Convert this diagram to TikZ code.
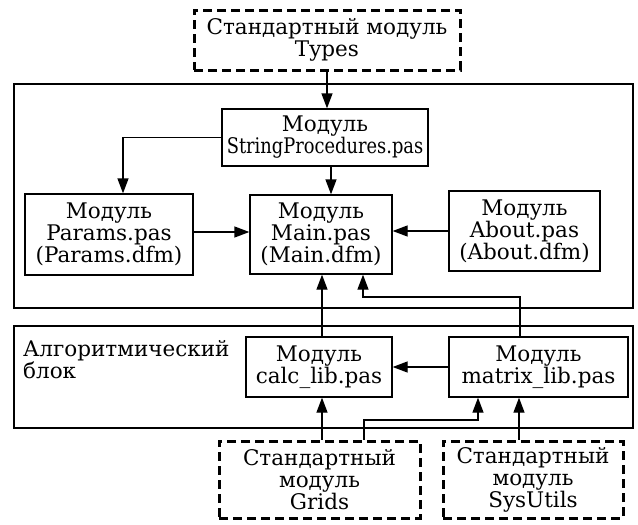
\documentclass[tikz,border=0pt]{standalone}
\usepackage{fontspec}
\usepackage{graphicx}
\setmainfont{DejaVu Serif}
\usetikzlibrary{arrows.meta}
\tikzset{
  txt/.style={font=\fontsize{21.5}{22}\selectfont},
  box/.style={draw, line width=1.3pt, inner sep=0pt, align=center, txt},
  dbox/.style={box, line width=3pt, dash pattern=on 9pt off 5pt},
  frame/.style={draw, line width=1.3pt, inner sep=0pt},
  arr/.style={line width=1.3pt, -{Triangle[length=15pt,width=11pt]}},
}
\begin{document}
\begin{tikzpicture}[x=1pt,y=-1pt]
\useasboundingbox (0,0) rectangle (638,525);
\node[frame, minimum width=619pt, minimum height=224pt] (outerA) at (323.5,196) {};
\node[frame, minimum width=619pt, minimum height=102pt] (outerB) at (323.5,377) {};
\node[dbox, minimum width=266pt, minimum height=60pt] (types) at (327,40) {Стандартный модуль\\Types};
\node[box, minimum width=206pt, minimum height=57pt] (sp) at (325,137.5) {Модуль\\\scalebox{0.83}[1]{StringProcedures.pas}};
\node[box, minimum width=168pt, minimum height=81pt] (params) at (109,234.5) {Модуль\\Params.pas\\(Params.dfm)};
\node[box, minimum width=142pt, minimum height=79pt] (main) at (321,234.5) {Модуль\\Main.pas\\(Main.dfm)};
\node[box, minimum width=151pt, minimum height=80pt] (about) at (524.5,231) {Модуль\\About.pas\\(About.dfm)};
\node[box, minimum width=146pt, minimum height=60pt] (calc) at (319,367) {Модуль\\calc\_lib.pas};
\node[box, minimum width=179pt, minimum height=60pt] (matrix) at (538.5,367) {Модуль\\matrix\_lib.pas};
\node[dbox, minimum width=201pt, minimum height=77pt] (grids) at (319.5,479.5) {Стандартный\\модуль\\Grids};
\node[dbox, minimum width=180pt, minimum height=77pt] (sysutils) at (533,479.5) {Стандартный\\модуль\\SysUtils};
\node[anchor=north west, align=left, inner sep=0pt, txt] (alg) at (23,340) {Алгоритмический\\блок};
\coordinate (x123) at (123,0);
\coordinate (x331) at (331,0);
\coordinate (x322) at (322,0);
\coordinate (x363) at (363,0);
\coordinate (x364) at (364,0);
\coordinate (x478) at (478,0);
\coordinate (x519) at (519,0);
\coordinate (x520) at (520,0);
\coordinate (y232) at (0,232);
\coordinate (y297) at (0,297);
\coordinate (y420) at (0,420);
\draw[arr] (types.south) -- (types.south |- sp.north);
\draw[arr] (sp.west) -| (x123 |- params.north);
\draw[arr] (x331 |- sp.south) -- (x331 |- main.north);
\draw[arr] (params.east |- y232) -- (main.west |- y232);
\draw[arr] (about.west) -- (about.west -| main.east);
\draw[arr] (x322 |- calc.north) -- (x322 |- main.south);
\draw[arr] (x520 |- matrix.north) |- (x363 |- y297) -- (x363 |- main.south);
\draw[arr] (matrix.west) -- (matrix.west -| calc.east);
\draw[arr] (x322 |- grids.north) -- (x322 |- calc.south);
\draw[arr] (x364 |- grids.north) |- (x478 |- y420) -- (x478 |- matrix.south);
\draw[arr] (x519 |- sysutils.north) -- (x519 |- matrix.south);
\end{tikzpicture}
\end{document}
